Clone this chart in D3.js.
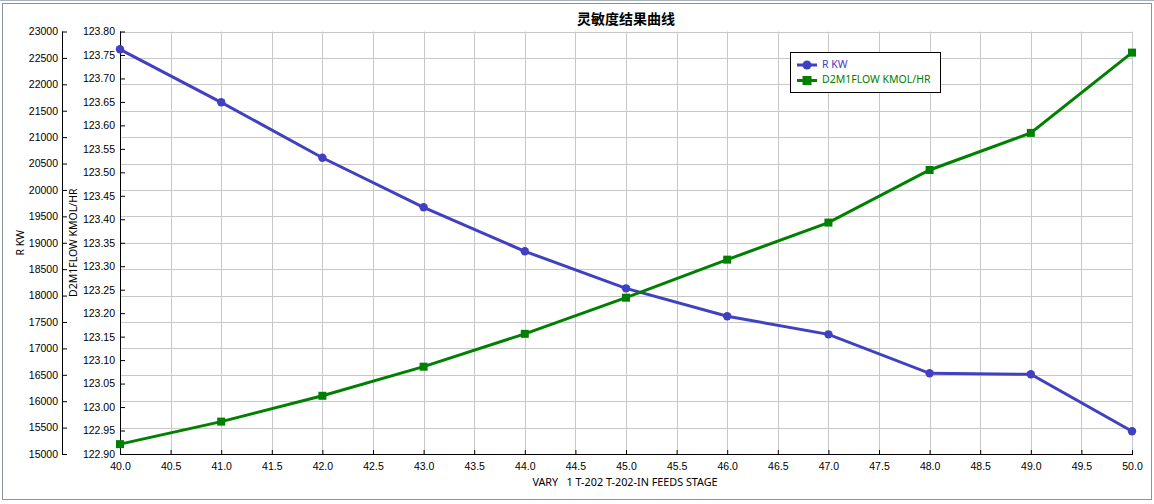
<!DOCTYPE html>
<html><head><meta charset="utf-8">
<script src="https://cdn.jsdelivr.net/npm/d3@7/dist/d3.min.js"></script>
<style>
body{margin:0;background:#fff;}
svg{display:block;font-family:"Noto Sans","DejaVu Sans",sans-serif;}
</style></head>
<body><svg id="c" width="1154" height="504"></svg>
<script>
const stages = [40,41,42,43,44,45,46,47,48,49,50];
const rKW = [22663,21659,20610,19671,18838,18137,17609,17266,16528,16509,15430];
const d2m1Flow = [122.921,122.969,123.024,123.086,123.156,123.233,123.314,123.393,123.505,123.584,123.755];
const xTicks = d3.range(40,50.01,0.5);
const rTicks = d3.range(15000,23001,500);
const fTicks = d3.range(0,19).map(i=>+(122.90+i*0.05).toFixed(2));
const title = "灵敏度结果曲线";
const xTitle = "VARY   1 T-202 T-202-IN FEEDS STAGE";
const seriesNames = ["R KW","D2M1FLOW KMOL/HR"];
const colors = ["#4040c0","#008000"];

const svg = d3.select("#c");
const L=120, R=1132, T=31.5, B=454;
const x = d3.scaleLinear().domain([40,50]).range([L,R]);
const yR = d3.scaleLinear().domain([15000,23000]).range([B,T]);
const yF = d3.scaleLinear().domain([122.9,123.8]).range([B,T]);

// frame
svg.append("line").attr("x1",0).attr("x2",1154).attr("y1",0.5).attr("y2",0.5).attr("stroke","#a8b0b8");
svg.append("rect").attr("x",2.5).attr("y",3.5).attr("width",1149).attr("height",496).attr("fill","none").attr("stroke","#8a949e");

// grid
const g = svg.append("g");
g.selectAll(".vg").data(xTicks).join("line").attr("x1",d=>Math.round(x(d))+0.5).attr("x2",d=>Math.round(x(d))+0.5)
 .attr("y1",T).attr("y2",B).attr("stroke","#c8c8c8");
g.selectAll(".hg").data(rTicks).join("line").attr("y1",d=>Math.round(yR(d))+0.5).attr("y2",d=>Math.round(yR(d))+0.5)
 .attr("x1",L).attr("x2",R).attr("stroke","#c8c8c8");

const fs = "10.5px";
// x axis
const xa = svg.append("g").attr("transform",`translate(0,${B})`)
  .call(d3.axisTop(x).tickValues(xTicks).tickSize(4).tickFormat(d3.format(".1f")));
xa.selectAll("text").attr("y",12).attr("dy","0.35em").style("font-size",fs).attr("fill","#000");
// F axis (inner)
const fa = svg.append("g").attr("transform",`translate(${L},0)`)
  .call(d3.axisRight(yF).tickValues(fTicks).tickSize(5).tickFormat(d3.format(".2f")));
fa.selectAll("text").attr("x",-5).attr("text-anchor","end").style("font-size",fs).attr("fill","#000");
// R axis (outer)
const ra = svg.append("g").attr("transform",`translate(62,0)`)
  .call(d3.axisRight(yR).tickValues(rTicks).tickSize(5).tickFormat(d3.format("d")));
ra.selectAll("text").attr("x",-4).attr("text-anchor","end").style("font-size",fs).attr("fill","#000");
svg.selectAll(".domain").attr("stroke","#000");
svg.selectAll(".tick line").attr("stroke","#000");
fa.select(".domain").attr("d",`M0.5,${T}V${B}`);
ra.select(".domain").attr("d",`M0.5,${T}V${B}`);
xa.select(".domain").attr("d",`M${L},0.5H${R+1}`);

// titles
svg.append("text").attr("x",626).attr("y",20).attr("text-anchor","middle").attr("dominant-baseline","middle")
  .style("font-family","'Noto Sans CJK SC',sans-serif").style("font-weight","bold").style("font-size","14px").text(title);
svg.append("text").attr("x",625).attr("y",483).attr("text-anchor","middle").attr("dominant-baseline","middle")
  .style("font-size","10.8px").style("white-space","pre").attr("xml:space","preserve").text(xTitle);
svg.append("text").attr("transform",`translate(21,${(T+B)/2}) rotate(-90)`).attr("text-anchor","middle").attr("dominant-baseline","middle")
  .style("font-size",fs).text(seriesNames[0]);
svg.append("text").attr("transform",`translate(74,${(T+B)/2}) rotate(-90)`).attr("text-anchor","middle").attr("dominant-baseline","middle")
  .style("font-size",fs).text(seriesNames[1]);

// lines
const lineR = d3.line().x((d,i)=>x(stages[i])).y(d=>yR(d));
const lineF = d3.line().x((d,i)=>x(stages[i])).y(d=>yF(d));
svg.append("path").attr("d",lineR(rKW)).attr("fill","none").attr("stroke",colors[0]).attr("stroke-width",3);
svg.append("path").attr("d",lineF(d2m1Flow)).attr("fill","none").attr("stroke",colors[1]).attr("stroke-width",3);
svg.selectAll(".pr").data(rKW).join("circle").attr("cx",(d,i)=>x(stages[i])).attr("cy",d=>yR(d)).attr("r",4.2).attr("fill",colors[0]);
svg.selectAll(".pf").data(d2m1Flow).join("rect").attr("x",(d,i)=>x(stages[i])-4).attr("y",d=>yF(d)-4).attr("width",8).attr("height",8).attr("fill",colors[1]);

// legend
const lg = svg.append("g");
lg.append("rect").attr("x",790.5).attr("y",52.5).attr("width",150).attr("height",40).attr("fill","#fff").attr("stroke","#000");
const ly=[65,80.5];
seriesNames.forEach((n,i)=>{
  lg.append("line").attr("x1",797).attr("x2",817).attr("y1",ly[i]).attr("y2",ly[i]).attr("stroke",colors[i]).attr("stroke-width",3);
  if(i===0) lg.append("circle").attr("cx",807).attr("cy",ly[i]).attr("r",4.5).attr("fill",colors[i]);
  else lg.append("rect").attr("x",802.5).attr("y",ly[i]-4.5).attr("width",9).attr("height",9).attr("fill",colors[i]);
  lg.append("text").attr("x",822).attr("y",ly[i]).attr("dominant-baseline","middle").style("font-size",fs).attr("fill",colors[i]).text(n);
});
</script></body></html>
